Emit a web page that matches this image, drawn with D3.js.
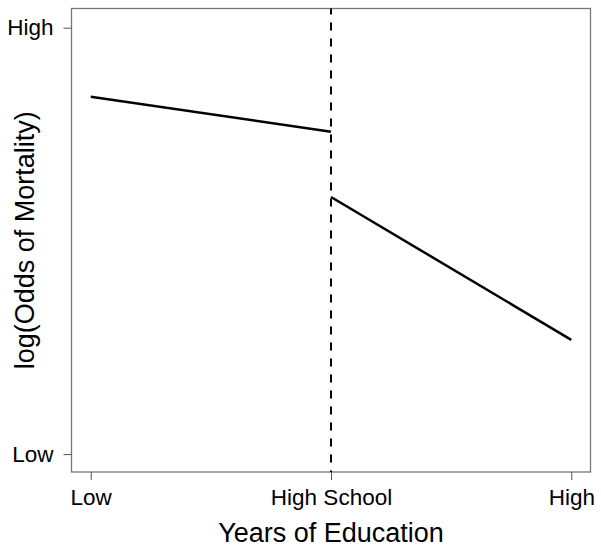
<!DOCTYPE html>
<html><head><meta charset="utf-8">
<script src="https://cdn.jsdelivr.net/npm/d3@7"></script>
<style>body{margin:0;background:#fff}svg{display:block}text{font-family:Arial,"Liberation Sans",sans-serif;fill:#000}</style>
</head><body><div id="chart"></div>
<script>
const xTickValues = [0, 1, 2];
const xTickLabels = ["Low", "High School", "High"];
const yTickValues = [0, 1];
const yTickLabels = ["Low", "High"];
const segmentBefore = [[0, 0.838], [1, 0.756]];
const segmentAfter = [[1, 0.603], [2, 0.268]];
const cutoff = 1;

const W = 601, H = 549;
const mLeft = 71.5, mRight = 590.5, mTop = 8.5, mBottom = 472;
const svg = d3.select("#chart").append("svg").attr("width", W).attr("height", H);

const x = d3.scaleLinear().domain([-0.08, 2.08]).range([mLeft, mRight]);
const y = d3.scaleLinear().domain([-0.042, 1.045]).range([mBottom, mTop]);

// box
svg.append("rect").attr("x", mLeft).attr("y", mTop).attr("width", mRight - mLeft).attr("height", mBottom - mTop)
  .attr("fill", "none").attr("stroke", "#777").attr("stroke-width", 1.3);

// axes
const xAxis = d3.axisBottom(x).tickValues(xTickValues).tickFormat((d, i) => xTickLabels[i]).tickSize(8).tickPadding(9);
const gx = svg.append("g").attr("transform", `translate(0,${mBottom})`).call(xAxis);
gx.select(".domain").remove();
gx.selectAll(".tick line").attr("stroke", "#555");
gx.selectAll(".tick text").style("font-size", "22.5px").attr("fill", "#000");

const yAxis = d3.axisLeft(y).tickValues(yTickValues).tickFormat((d, i) => yTickLabels[i]).tickSize(8).tickPadding(10);
const gy = svg.append("g").attr("transform", `translate(${mLeft},0)`).call(yAxis);
gy.select(".domain").remove();
gy.selectAll(".tick line").attr("stroke", "#555");
gy.selectAll(".tick text").style("font-size", "22.5px").attr("fill", "#000");

// cutoff line
svg.append("line").attr("x1", x(cutoff)).attr("x2", x(cutoff)).attr("y1", mTop).attr("y2", mBottom)
  .attr("stroke", "#000").attr("stroke-width", 2).attr("stroke-dasharray", "8,8").attr("stroke-dashoffset", 2);

const line = d3.line().x(d => x(d[0])).y(d => y(d[1]));
[segmentBefore, segmentAfter].forEach(s => {
  svg.append("path").attr("d", line(s)).attr("fill", "none").attr("stroke", "#000").attr("stroke-width", 2.5);
});

// titles
svg.append("text").attr("x", (mLeft + mRight) / 2).attr("y", 542).attr("text-anchor", "middle")
  .style("font-size", "27px").text("Years of Education");
svg.append("text").attr("transform", `translate(34,${(mTop + mBottom) / 2}) rotate(-90)`).attr("text-anchor", "middle")
  .style("font-size", "27px").text("log(Odds of Mortality)");
</script></body></html>
